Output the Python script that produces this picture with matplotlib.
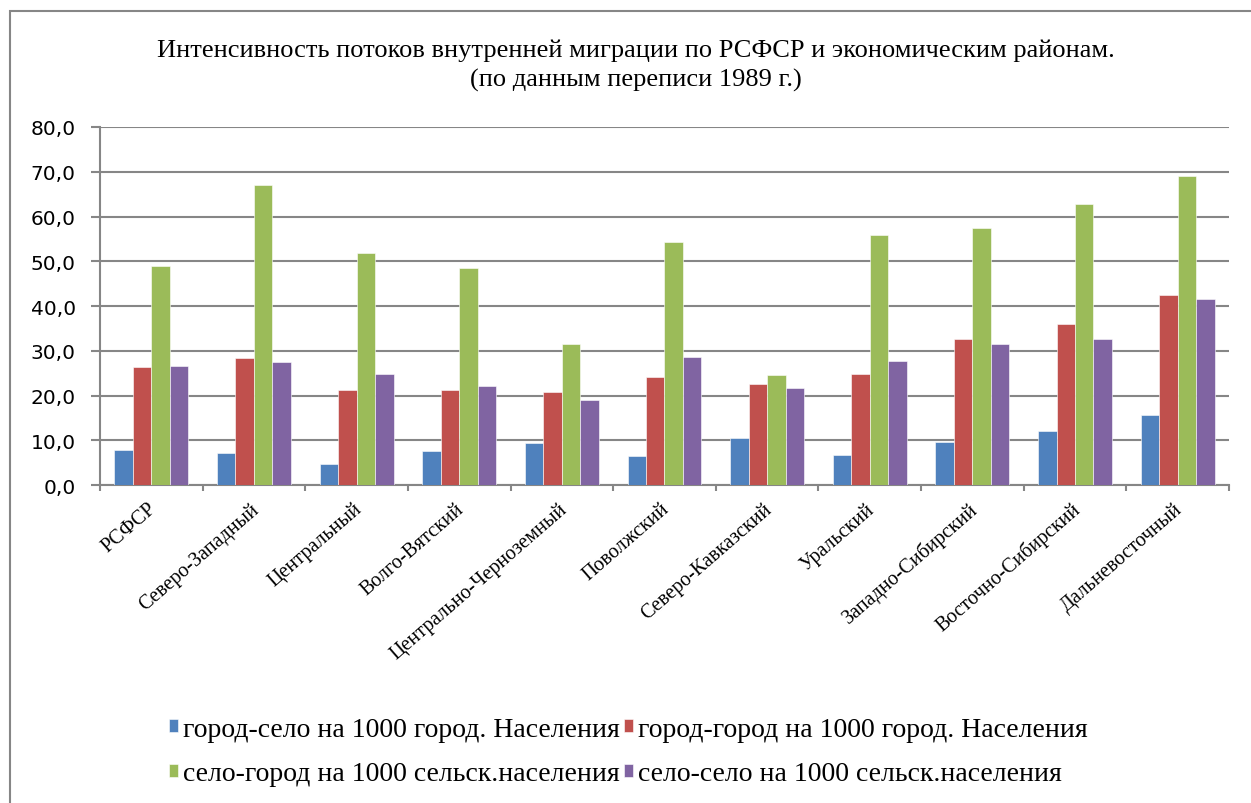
import numpy as np
import matplotlib
matplotlib.use("Agg")
import matplotlib.pyplot as plt
import matplotlib.transforms as mtransforms
from matplotlib.patches import Rectangle

# data
regions = ["РСФСР", "Северо-Западный", "Центральный", "Волго-Вятский",
           "Центрально-Черноземный", "Поволжский", "Северо-Кавказский",
           "Уральский", "Западно-Сибирский", "Восточно-Сибирский",
           "Дальневосточный"]
gorod_selo = [7.9, 7.1, 4.6, 7.7, 9.4, 6.5, 10.4, 6.8, 9.7, 12.1, 15.6]
gorod_gorod = [26.3, 28.3, 21.3, 21.3, 20.7, 24.1, 22.5, 24.9, 32.7, 35.9, 42.4]
selo_gorod = [49.0, 67.0, 51.9, 48.4, 31.5, 54.2, 24.6, 55.8, 57.4, 62.9, 69.0]
selo_selo = [26.6, 27.6, 24.8, 22.2, 19.1, 28.7, 21.7, 27.8, 31.5, 32.6, 41.5]

series_names = ["город-село на 1000 город. Населения",
                "город-город на 1000 город. Населения",
                "село-город на 1000 сельск.населения",
                "село-село на 1000 сельск.населения"]
colors = ["#4f81bd", "#c0504d", "#9bbb59", "#8064a2"]

fig = plt.figure(figsize=(12.51, 8.04), dpi=100)
ax = fig.add_axes([0.0799, 0.3955, 0.9025, 0.4453])

# outer chart border (display coords, origin bottom-left)
fig.patches.append(Rectangle((10, -50), 1400, 804 - 12 + 50, transform=None,
                             fill=False, edgecolor="#868686", linewidth=1.5))

x = np.arange(len(regions))
w = 0.18
all_series = [gorod_selo, gorod_gorod, selo_gorod, selo_selo]
bars = []
for i, vals in enumerate(all_series):
    b = ax.bar(x + (i - 1.5) * w, vals, width=w, color=colors[i],
               edgecolor="white", linewidth=0.4, zorder=3, label=series_names[i])
    bars.append(b)

ax.set_xlim(-0.5, len(regions) - 0.5)
ax.set_ylim(0, 80)
ax.set_yticks(np.arange(0, 81, 10))
ax.set_yticklabels([("%.1f" % v).replace(".", ",") for v in np.arange(0, 81, 10)],
                   fontsize=14.5, family="DejaVu Sans")
ax.yaxis.grid(True, color="#868686", linewidth=1.5, zorder=0)
ax.set_axisbelow(True)

for s in ["top", "right"]:
    ax.spines[s].set_visible(False)
ax.spines["left"].set_color("#868686")
ax.spines["left"].set_linewidth(1.5)
ax.spines["bottom"].set_color("#868686")
ax.spines["bottom"].set_linewidth(1.5)
ax.tick_params(axis="y", length=6.5, width=1.5, color="#868686", direction="out", pad=11)

# category boundary ticks, labels at centres
ax.set_xticks(np.arange(-0.5, len(regions), 1.0))
ax.set_xticklabels([])
ax.tick_params(axis="x", length=4.5, width=1.5, color="#868686", direction="out")
offset = mtransforms.ScaledTranslation(-4 / 100, -14 / 100, fig.dpi_scale_trans)
for xi, name in zip(x, regions):
    ax.text(xi, 0, name, rotation=41, ha="right", va="top", rotation_mode="anchor",
            fontsize=14.5, family="Liberation Serif",
            transform=ax.get_xaxis_transform() + offset)

fig.text(0.508, 0.918, "Интенсивность потоков внутренней миграции по РСФСР и экономическим районам.\n(по данным переписи 1989 г.)",
         ha="center", va="center", fontsize=19, family="Liberation Serif",
         linespacing=1.4)

# order so that the rows read blue, red / green, purple
order = [0, 2, 1, 3]
fig.legend(handles=[bars[i] for i in order], labels=[series_names[i] for i in order],
           loc="center", ncol=2, bbox_to_anchor=(0.502, 0.064), frameon=False,
           prop={"family": "Liberation Serif", "size": 20},
           handlelength=0.35, handleheight=0.35, handletextpad=0.15,
           columnspacing=0.15, labelspacing=0.7, borderpad=0)

fig.savefig("out.png", dpi=100)
